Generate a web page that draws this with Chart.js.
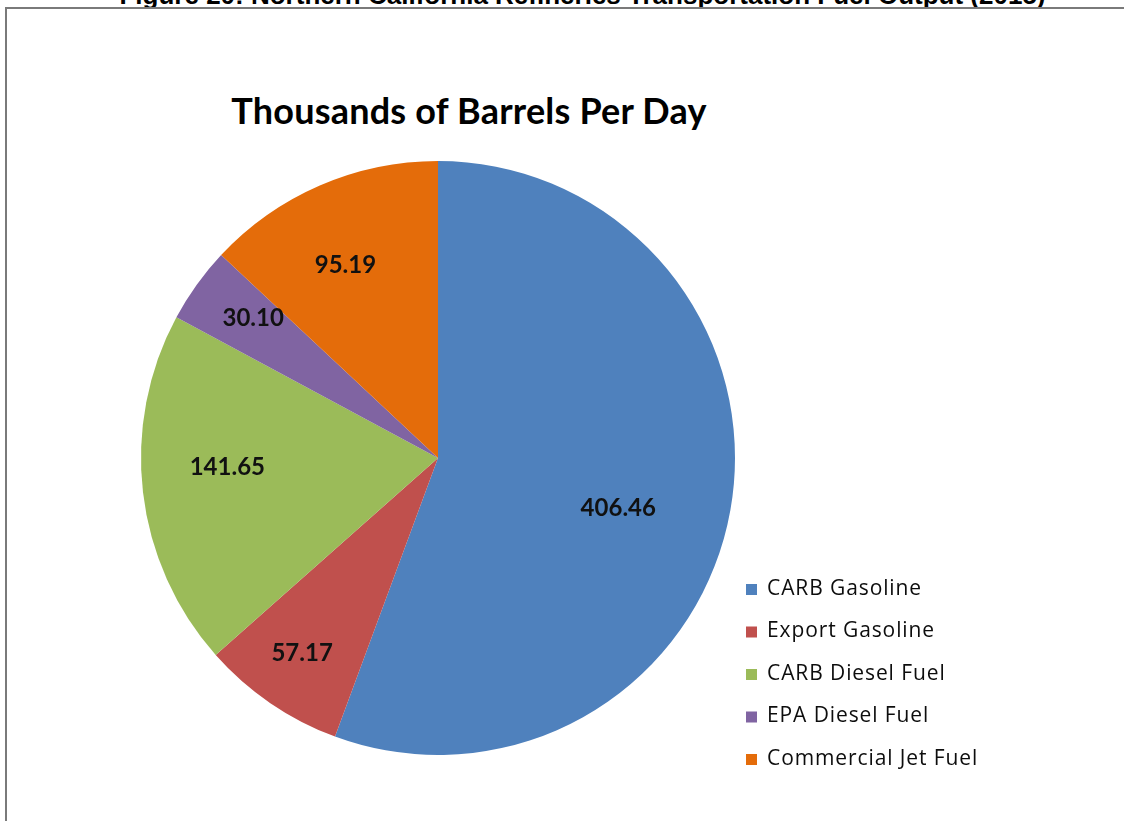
<!DOCTYPE html>
<html lang="en">
<head>
  <meta charset="UTF-8">
  <title>Thousands of Barrels Per Day</title>
  <script src="https://cdn.jsdelivr.net/npm/chart.js"></script>
  <style>
    body {
      margin: 0;
      background: #fff;
      width: 1124px;
      height: 821px;
      overflow: hidden;
      position: relative;
      font-family: 'Lato', sans-serif;
    }
    .caption {
      position: absolute;
      top: -20px;
      left: 0;
      width: 1165px;
      text-align: center;
      font-family: 'Liberation Sans', Arial, sans-serif;
      font-weight: bold;
      font-size: 26px;
      white-space: nowrap;
      color: #000;
    }
    .frame {
      position: absolute;
      left: 5px;
      top: 7px;
      width: 1200px;
      height: 900px;
      border-top: 2px solid #7a7a7a;
      border-left: 2px solid #7a7a7a;
    }
    h1 {
      position: absolute;
      top: 88px;
      left: 0;
      width: 938px;
      margin: 0;
      text-align: center;
      font-size: 36px;
      letter-spacing: 0.2px;
      font-weight: bold;
      color: #000;
    }
    canvas {
      position: absolute;
      left: 0;
      top: 0;
    }
  </style>
</head>
<body>

  <div class="caption">Figure 20: Northern California Refineries Transportation Fuel Output (2015)</div>
  <div class="frame"></div>
  <h1>Thousands of Barrels Per Day</h1>
  <canvas id="fuelChart" width="1124" height="821"></canvas>

  <script>
    const fuels = ['CARB Gasoline', 'Export Gasoline', 'CARB Diesel Fuel', 'EPA Diesel Fuel', 'Commercial Jet Fuel'];
    const barrels = [406.46, 57.17, 141.65, 30.10, 95.19];
    const colors = ['#4F81BD', '#C0504D', '#9BBB59', '#8064A2', '#E46C0A'];

    // where each value label sits: fraction of radius, and a small turn (degrees) off the slice middle
    const labelDepth = [0.63, 0.8, 0.71, 0.78, 0.72];
    const labelTurn = [5.4, 0.5, 4.2, 1.4, -2.2];

    const sliceLabels = {
      id: 'sliceLabels',
      afterDatasetsDraw(chart) {
        const ctx = chart.ctx;
        const meta = chart.getDatasetMeta(0);
        ctx.save();
        ctx.font = 'bold 24px Lato, sans-serif';
        ctx.fillStyle = '#111';
        ctx.textAlign = 'center';
        ctx.textBaseline = 'middle';
        meta.data.forEach((arc, i) => {
          const p = arc.getProps(['x', 'y', 'startAngle', 'endAngle', 'outerRadius'], true);
          const mid = (p.startAngle + p.endAngle) / 2 + labelTurn[i] * Math.PI / 180;
          const r = p.outerRadius * labelDepth[i];
          ctx.fillText(barrels[i].toFixed(2), p.x + Math.cos(mid) * r, p.y + Math.sin(mid) * r);
        });
        ctx.restore();
      }
    };

    const sideLegend = {
      id: 'sideLegend',
      afterDraw(chart) {
        const ctx = chart.ctx;
        const ds = chart.data.datasets[0];
        ctx.save();
        ctx.font = '21px "Open Sans", sans-serif';
        ctx.letterSpacing = '0.9px';
        ctx.textBaseline = 'middle';
        chart.data.labels.forEach((name, i) => {
          const y = 589 + i * 42.5;
          ctx.fillStyle = ds.backgroundColor[i];
          ctx.fillRect(746, y - 5, 11, 11);
          ctx.fillStyle = '#0d0d0d';
          ctx.fillText(name, 767, y);
        });
        ctx.restore();
      }
    };

    new Chart(document.getElementById('fuelChart'), {
      type: 'pie',
      data: {
        labels: fuels,
        datasets: [{
          data: barrels,
          backgroundColor: colors,
          borderWidth: 0
        }]
      },
      options: {
        responsive: false,
        animation: false,
        layout: {
          padding: { left: 141, top: 161, right: 389, bottom: 66 }
        },
        plugins: {
          legend: { display: false },
          tooltip: { enabled: false }
        }
      },
      plugins: [sliceLabels, sideLegend]
    });
  </script>

</body>
</html>
